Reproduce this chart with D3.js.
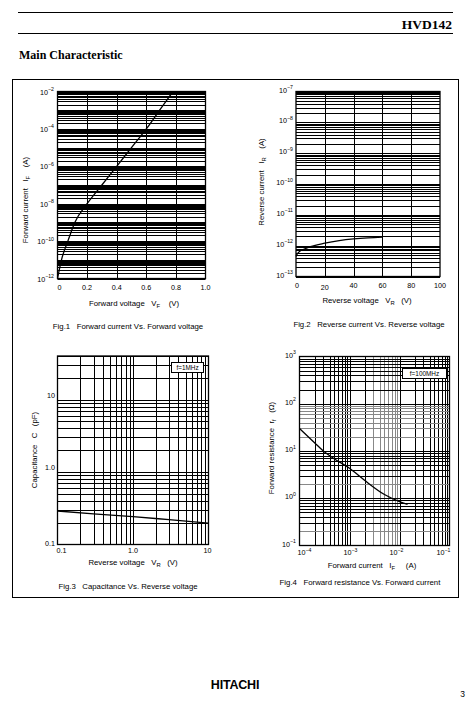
<!DOCTYPE html>
<html><head><meta charset="utf-8">
<script src="https://cdn.jsdelivr.net/npm/d3@7"></script>
<style>
body{margin:0;background:#fff}
svg{display:block}
text{font-family:"Liberation Sans",Arial,Helvetica,sans-serif;fill:#000;white-space:pre}
.serif{font-family:"Liberation Serif","Times New Roman",serif;font-weight:bold}
</style>
</head><body>
<svg id="c" width="471" height="706"></svg>
<script>
// ---------- data ----------
// Fig.1 Forward current vs forward voltage
const fig1Voltage = [0, 0.027, 0.07, 0.117, 0.2, 0.3, 0.4, 0.5, 0.6, 0.69, 0.78];
const fig1Current = [1e-12, 1e-11, 1e-10, 1e-9, 1e-8, 1e-7, 1e-6, 1e-5, 1e-4, 1e-3, 1e-2];
const fig1XTicks = [0, 0.2, 0.4, 0.6, 0.8, 1.0];
const fig1XTickLabels = ["0", "0.2", "0.4", "0.6", "0.8", "1.0"];
const fig1YExponents = [-2, -4, -6, -8, -10, -12];

// Fig.2 Reverse current vs reverse voltage
const fig2Voltage = [0, 1, 3, 5, 10, 20, 30, 40, 50, 60];
const fig2Current = [4.5e-13, 5.5e-13, 6.8e-13, 7.5e-13, 9.3e-13, 1.2e-12, 1.45e-12, 1.65e-12, 1.8e-12, 1.9e-12];
const fig2XTicks = [0, 20, 40, 60, 80, 100];
const fig2YExponents = [-7, -8, -9, -10, -11, -12, -13];

// Fig.3 Capacitance vs reverse voltage
const fig3Voltage = [0.1, 0.3, 1, 3, 10];
const fig3Capacitance = [0.29, 0.265, 0.243, 0.22, 0.197];
const fig3XTicks = [0.1, 1, 10];
const fig3XTickLabels = ["0.1", "1.0", "10"];
const fig3YTicks = [0.1, 1, 10];
const fig3YTickLabels = ["0.1", "1.0", "10"];

// Fig.4 Forward resistance vs forward current
const fig4Current = [1e-4, 2e-4, 3e-4, 5e-4, 1e-3, 2e-3, 5e-3, 1e-2, 1.45e-2];
const fig4Resistance = [30, 15, 10, 6.8, 4.3, 2.4, 1.2, 0.85, 0.74];
const fig4XExponents = [-4, -3, -2, -1];
const fig4YExponents = [3, 2, 1, 0, -1];

// ---------- helpers ----------
const svg = d3.select("#c");

function logGrid(a, b) {
  const out = [];
  for (let e = Math.floor(Math.log10(a)); e <= Math.ceil(Math.log10(b)); e++) {
    for (let k = 1; k <= 9; k++) {
      const v = k * Math.pow(10, e);
      if (v >= a * 0.9999 && v <= b * 1.0001) out.push(v);
    }
  }
  return out;
}

function powLabel(g, x, y, exp, anchor, fs) {
  const t = g.append("text").attr("x", x).attr("y", y).attr("text-anchor", anchor)
    .attr("font-size", fs);
  t.append("tspan").text("10");
  t.append("tspan").attr("dy", -3.5).attr("font-size", fs * 0.72).text(exp < 0 ? "\u2212" + (-exp) : String(exp));
  return t;
}

function drawGrid(g, x, y, xs, ys, color) {
  const [L, R] = x.range();
  const [B, T] = y.range();
  g.append("g").selectAll("line").data(xs).join("line")
    .attr("x1", d => Math.round(x(d)) + 0.5).attr("x2", d => Math.round(x(d)) + 0.5)
    .attr("y1", T).attr("y2", B)
    .attr("stroke", typeof color === "function" ? (d => color(d, "x")) : color).attr("stroke-width", 1);
  g.append("g").selectAll("line").data(ys).join("line")
    .attr("y1", d => Math.round(y(d)) + 0.5).attr("y2", d => Math.round(y(d)) + 0.5)
    .attr("x1", L).attr("x2", R)
    .attr("stroke", typeof color === "function" ? (d => color(d, "y")) : color).attr("stroke-width", 1);
  g.append("rect").attr("x", L).attr("y", T).attr("width", R - L).attr("height", B - T)
    .attr("fill", "none").attr("stroke", "#000").attr("stroke-width", 1.3);
}

function curve(g, x, y, xs, ys) {
  const pts = xs.map((v, i) => [x(v), y(ys[i])]);
  g.append("path").attr("d", d3.line().curve(d3.curveMonotoneX)(pts))
    .attr("fill", "none").attr("stroke", "#000").attr("stroke-width", 1.3);
}

function subLabel(g, x, y, parts, anchor, fs, rotate) {
  const t = g.append("text").attr("x", x).attr("y", y).attr("text-anchor", anchor).attr("font-size", fs);
  if (rotate) t.attr("transform", `rotate(-90,${x},${y})`);
  parts.forEach(p => {
    const s = t.append("tspan").text(p.t);
    if (p.sub) s.attr("dy", 1.5).attr("font-size", fs * 0.75);
    if (p.up) s.attr("dy", -1.5);
  });
  return t;
}

// ---------- page frame ----------
svg.append("line").attr("x1", 18).attr("x2", 453).attr("y1", 12.5).attr("y2", 12.5).attr("stroke", "#000").attr("stroke-width", 1);
svg.append("line").attr("x1", 18).attr("x2", 453).attr("y1", 33.5).attr("y2", 33.5).attr("stroke", "#000").attr("stroke-width", 1);
svg.append("text").attr("class", "serif").attr("x", 452).attr("y", 29).attr("text-anchor", "end").attr("font-size", 13.5).text("HVD142");
svg.append("text").attr("class", "serif").attr("x", 19).attr("y", 59).attr("font-size", 12).text("Main Characteristic");
svg.append("rect").attr("x", 12.5).attr("y", 79.5).attr("width", 446).attr("height", 518).attr("fill", "none").attr("stroke", "#000").attr("stroke-width", 1);
svg.append("text").attr("x", 235).attr("y", 689).attr("text-anchor", "middle").attr("font-size", 12.5).attr("font-weight", "bold")
  .attr("letter-spacing", "-0.2").text("HITACHI");
svg.append("text").attr("x", 465).attr("y", 697).attr("text-anchor", "end").attr("font-size", 8.5).text("3");

const FS = 7.8;
const TFS = 7.2;

// ---------- Fig.1 ----------
{
  const g = svg.append("g");
  const x = d3.scaleLinear().domain([0, 1]).range([57.5, 205.5]);
  const y = d3.scaleLog().domain([1e-12, 1e-2]).range([278.5, 91.5]);
  drawGrid(g, x, y, [0.2, 0.4, 0.6, 0.8], logGrid(1e-12, 1e-2), "#000");
  curve(g, x, y, fig1Voltage, fig1Current);
  fig1XTicks.forEach((v, i) => g.append("text").attr("x", x(v) + (i === 0 ? 2 : 0)).attr("y", 290)
    .attr("text-anchor", "middle").attr("font-size", TFS).text(fig1XTickLabels[i]));
  fig1YExponents.forEach(e => powLabel(g, 54, y(Math.pow(10, e)) + 3, e, "end", TFS));
  subLabel(g, 134, 306, [{t: "Forward voltage   V"}, {t: "F", sub: true}, {t: "    (V)", up: true}], "middle", FS);
  subLabel(g, 28, 200, [{t: "Forward current   I"}, {t: "F", sub: true}, {t: "    (A)", up: true}], "middle", FS, true);
  g.append("text").attr("x", 128).attr("y", 329).attr("text-anchor", "middle").attr("font-size", FS)
    .text("Fig.1   Forward current Vs. Forward voltage");
}

// ---------- Fig.2 ----------
{
  const g = svg.append("g");
  const x = d3.scaleLinear().domain([0, 100]).range([296, 440]);
  const y = d3.scaleLog().domain([1e-13, 1e-7]).range([276.5, 91.5]);
  drawGrid(g, x, y, [20, 40, 60, 80], logGrid(1e-13, 1e-7), "#000");
  curve(g, x, y, fig2Voltage, fig2Current);
  fig2XTicks.forEach((v, i) => g.append("text").attr("x", x(v) + (i === 0 ? 1 : 0)).attr("y", i === 1 ? 290 : 288)
    .attr("text-anchor", "middle").attr("font-size", TFS).text(String(v)));
  fig2YExponents.forEach(e => powLabel(g, 293, y(Math.pow(10, e)) + 1, e, "end", TFS));
  subLabel(g, 367, 303, [{t: "Reverse voltage   V"}, {t: "R", sub: true}, {t: "   (V)", up: true}], "middle", FS);
  subLabel(g, 264, 182, [{t: "Reverse current   I"}, {t: "R", sub: true}, {t: "    (A)", up: true}], "middle", FS, true);
  g.append("text").attr("x", 369).attr("y", 327).attr("text-anchor", "middle").attr("font-size", FS)
    .text("Fig.2   Reverse current Vs. Reverse voltage");
}

// ---------- Fig.3 ----------
{
  const g = svg.append("g");
  const x = d3.scaleLog().domain([0.1, 10]).range([57.5, 208.5]);
  const y = d3.scaleLog().domain([0.1, 40]).range([544.5, 356]);
  drawGrid(g, x, y, logGrid(0.1, 10).slice(1, -1), logGrid(0.1, 40).slice(1), "#000");
  curve(g, x, y, fig3Voltage, fig3Capacitance);
  fig3XTicks.forEach((v, i) => g.append("text").attr("x", x(v) + (i === 0 ? 4 : i === 2 ? -1 : 0)).attr("y", 553)
    .attr("text-anchor", "middle").attr("font-size", TFS).text(fig3XTickLabels[i]));
  fig3YTicks.forEach((v, i) => g.append("text").attr("x", 55).attr("y", y(v) + (i === 0 ? 1 : -2))
    .attr("text-anchor", "end").attr("font-size", TFS).text(fig3YTickLabels[i]));
  subLabel(g, 133, 565, [{t: "Reverse voltage   V"}, {t: "R", sub: true}, {t: "   (V)", up: true}], "middle", FS);
  g.append("text").attr("x", 37).attr("y", 450).attr("text-anchor", "middle").attr("font-size", FS)
    .attr("transform", "rotate(-90,37,450)").text("Capacitance   C   (pF)");
  const bx = g.append("g");
  bx.append("rect").attr("x", 171.5).attr("y", 362.5).attr("width", 32).attr("height", 10).attr("fill", "#fff").attr("stroke", "#000").attr("stroke-width", 1);
  bx.append("text").attr("x", 187.5).attr("y", 370).attr("text-anchor", "middle").attr("font-size", 6.4).text("f=1MHz");
  g.append("text").attr("x", 128).attr("y", 589).attr("text-anchor", "middle").attr("font-size", FS)
    .text("Fig.3   Capacitance Vs. Reverse voltage");
}

// ---------- Fig.4 ----------
{
  const g = svg.append("g");
  const x = d3.scaleLog().domain([1e-4, 1e-1]).range([299.5, 449.5]);
  const y = d3.scaleLog().domain([0.1, 1000]).range([545.5, 356.5]);
  const gray = (d, axis) => {
    if (axis === "x") return (d >= 2.9e-3 && d <= 9.1e-3) ? "#888" : "#000";
    const k = Math.round(d / Math.pow(10, Math.floor(Math.log10(d) + 1e-9)));
    if (d > 15 && d < 150 && k >= 2) return "#888";
    if (k === 2 && d < 10) return "#888";
    return "#000";
  };
  drawGrid(g, x, y, logGrid(1e-4, 1e-1).slice(1, -1), logGrid(0.1, 1000).slice(1, -1), gray);
  curve(g, x, y, fig4Current, fig4Resistance);
  fig4XExponents.forEach((e, i) => powLabel(g, x(Math.pow(10, e)) + [5, 1, -3, -6][i], 555, e, "middle", TFS));
  fig4YExponents.forEach(e => powLabel(g, 296, y(Math.pow(10, e)) + 1, e, "end", TFS));
  subLabel(g, 372, 568, [{t: "Forward current   I"}, {t: "F", sub: true}, {t: "     (A)", up: true}], "middle", FS);
  subLabel(g, 274, 448, [{t: "Forward resistance  r"}, {t: "f", sub: true}, {t: "   (\u03A9)", up: true}], "middle", FS, true);
  const bx = g.append("g");
  bx.append("rect").attr("x", 402.5).attr("y", 368.5).attr("width", 44).attr("height", 10).attr("fill", "#fff").attr("stroke", "#000").attr("stroke-width", 1);
  bx.append("text").attr("x", 424.5).attr("y", 376).attr("text-anchor", "middle").attr("font-size", 6.4).text("f=100MHz");
  g.append("text").attr("x", 360).attr("y", 585).attr("text-anchor", "middle").attr("font-size", FS)
    .text("Fig.4   Forward resistance Vs. Forward current");
}
</script>
</body></html>
